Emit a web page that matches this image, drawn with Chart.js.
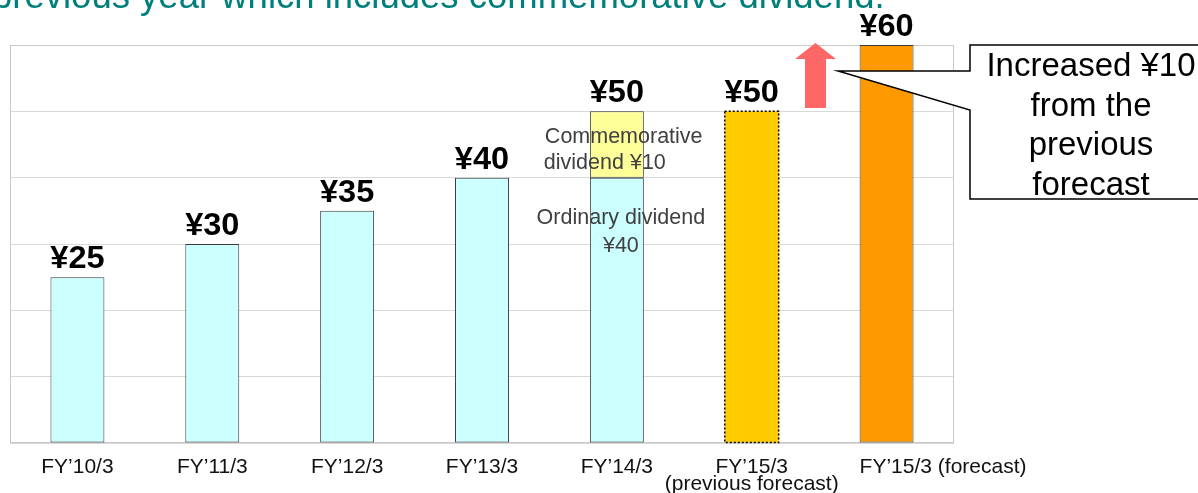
<!DOCTYPE html>
<html>
<head>
<meta charset="utf-8">
<script src="https://cdn.jsdelivr.net/npm/chart.js@4.4.1/dist/chart.umd.min.js"></script>
<style>
  html, body { margin: 0; padding: 0; background: #fff; overflow: hidden; }
  #wrap { position: relative; width: 1198px; height: 493px; }
</style>
</head>
<body>
<div id="wrap"><canvas id="myChart"></canvas></div>
<script>
// data
const categories = [['FY’10/3'], ['FY’11/3'], ['FY’12/3'], ['FY’13/3'], ['FY’14/3'], ['FY’15/3', '(previous forecast)'], ['FY’15/3 (forecast)']];
const ordinaryDividend = [25, 30, 35, 40, 40, null, null];
const commemorativeDividend = [null, null, null, null, 10, null, null];
const previousForecast = [null, null, null, null, null, 50, null];
const currentForecast = [null, null, null, null, null, null, 60];
const yMin = 0, yMax = 60, yStep = 10;

const titleText = 'previous year which includes commemorative dividend.';
const calloutLines = ['Increased ¥10', 'from the', 'previous', 'forecast'];
const commemorativeNote = ['Commemorative', 'dividend ¥10'];
const ordinaryNote = ['Ordinary dividend', '¥40'];

const FONT = '"Liberation Sans", Arial, sans-serif';

function drawText(c, txt, x, y, font, color, align, sx) {
    c.save();
    c.translate(x, y);
    c.scale(sx || 1, 1);
    c.font = font;
    c.fillStyle = color;
    c.textAlign = align || 'center';
    c.textBaseline = 'alphabetic';
    c.fillText(txt, 0, 0);
    c.restore();
}

const slidePlugin = {
    id: 'slide',
    beforeDatasetsDraw(chart) {
        const a = chart.chartArea, c = chart.ctx;
        c.save();
        c.strokeStyle = '#c8c8c8';
        c.lineWidth = 1;
        c.strokeRect(a.left + 0.5, a.top + 0.5, a.right - a.left - 1, a.bottom - a.top - 1);
        c.restore();
    },
    afterDatasetsDraw(chart) {
        const c = chart.ctx;
        const xs = chart.scales.x, ys = chart.scales.y;

        // dotted outline on the previous forecast bar
        const el = chart.getDatasetMeta(2).data[5];
        if (el) {
            const p = el.getProps(['x', 'y', 'base', 'width'], true);
            c.save();
            c.strokeStyle = '#000';
            c.lineWidth = 1.5;
            c.setLineDash([2, 2]);
            c.strokeRect(p.x - p.width / 2, p.y, p.width, p.base - p.y);
            c.restore();
        }

        // totals above each bar
        categories.forEach((cat, i) => {
            const total = [ordinaryDividend, commemorativeDividend, previousForecast, currentForecast]
                .reduce((s, arr) => s + (arr[i] || 0), 0);
            const x = xs.getPixelForValue(i);
            const y = ys.getPixelForValue(total);
            drawText(c, '¥' + total, x, y - 9, 'bold 31px ' + FONT, '#000', 'center', 1.05);
        });

        // notes inside FY'14/3 bar
        const x4 = xs.getPixelForValue(4);
        const nf = '21.5px ' + FONT;
        drawText(c, commemorativeNote[0], x4 - 72, 143, nf, '#404040', 'left');
        drawText(c, commemorativeNote[1], x4 - 73, 169, nf, '#404040', 'left');
        drawText(c, ordinaryNote[0], x4 + 4, 224, nf, '#404040', 'center');
        drawText(c, ordinaryNote[1], x4 + 4, 252, nf, '#404040', 'center');

        // category labels (the last one starts at its bar's left edge)
        const barHalf = chart.getDatasetMeta(3).data[6].width / 2;
        categories.forEach((lines, i) => {
            const x = xs.getPixelForValue(i);
            lines.forEach((t, k) => {
                if (i === categories.length - 1) {
                    drawText(c, t, x - barHalf, 473, '21px ' + FONT, '#111', 'left');
                } else {
                    drawText(c, t, x, 473 + k * 17, '21px ' + FONT, '#111', 'center');
                }
            });
        });
    },
    afterDraw(chart) {
        const c = chart.ctx;

        // cut-off title line
        drawText(c, titleText, -8, 8, '36.5px ' + FONT, '#00807c', 'left');

        // red up arrow
        c.save();
        c.fillStyle = '#ff6666';
        c.beginPath();
        c.moveTo(815.5, 43);
        c.lineTo(836, 59);
        c.lineTo(826, 59);
        c.lineTo(826, 108);
        c.lineTo(805, 108);
        c.lineTo(805, 59);
        c.lineTo(795, 59);
        c.closePath();
        c.fill();
        c.restore();

        // callout box with wedge
        c.save();
        c.fillStyle = '#fff';
        c.strokeStyle = '#000';
        c.lineWidth = 1.5;
        c.beginPath();
        c.moveTo(970, 45);
        c.lineTo(1202, 45);
        c.lineTo(1202, 199);
        c.lineTo(970, 199);
        c.lineTo(970, 110);
        c.lineTo(838, 71);
        c.lineTo(970, 71);
        c.closePath();
        c.fill();
        c.stroke();
        c.restore();

        calloutLines.forEach((t, k) => {
            drawText(c, t, 1091, 76 + k * 39.7, '33px ' + FONT, '#000', 'center');
        });
    }
};

const ctx = document.getElementById('myChart').getContext('2d');

const barBorder = '#3a3a3a';

const myChart = new Chart(ctx, {
    type: 'bar',
    data: {
        labels: categories,
        datasets: [{
            label: 'Ordinary dividend',
            data: ordinaryDividend,
            backgroundColor: '#ccffff',
            borderColor: barBorder,
            borderWidth: 1,
            borderSkipped: false
        }, {
            label: 'Commemorative dividend',
            data: commemorativeDividend,
            backgroundColor: '#ffff99',
            borderColor: barBorder,
            borderWidth: 1,
            borderSkipped: false
        }, {
            label: 'Previous forecast',
            data: previousForecast,
            backgroundColor: '#ffcc00',
            borderWidth: 0
        }, {
            label: 'Forecast',
            data: currentForecast,
            backgroundColor: '#ff9900',
            borderColor: barBorder,
            borderWidth: 1,
            borderSkipped: false
        }]
    },
    options: {
        responsive: true,
        maintainAspectRatio: false,
        animation: false,
        barPercentage: 0.4,
        categoryPercentage: 1.0,
        layout: { padding: { left: 10, top: 45, right: 244, bottom: 50 } },
        plugins: {
            legend: { display: false },
            tooltip: { enabled: false }
        },
        scales: {
            x: {
                stacked: true,
                ticks: { display: false },
                grid: { display: false, drawTicks: false },
                border: { display: false }
            },
            y: {
                stacked: true,
                min: yMin,
                max: yMax,
                ticks: { display: false, stepSize: yStep },
                grid: { color: '#d9d9d9', drawTicks: false },
                border: { display: false }
            }
        }
    },
    plugins: [slidePlugin]
});
</script>
</body>
</html>
